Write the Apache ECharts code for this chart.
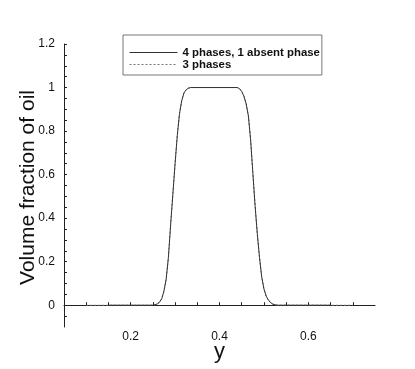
<!DOCTYPE html>
<html>
<head>
<meta charset="utf-8">
<script src="https://cdn.jsdelivr.net/npm/echarts@6/dist/echarts.min.js"></script>
<style>
html,body{margin:0;padding:0;background:#fff;}
#chart{width:415px;height:369px;}
</style>
</head>
<body>
<div id="chart"></div>
<script>
// Values
var seriesNames = ['4 phases, 1 absent phase', '3 phases'];

// shared transition profile (y position vs volume fraction)
var profileX = [0.25, 0.255, 0.26, 0.265, 0.27, 0.275, 0.28, 0.285, 0.29, 0.295, 0.30, 0.305, 0.31, 0.315, 0.32, 0.325, 0.33, 0.335,
  0.44, 0.445, 0.45, 0.455, 0.46, 0.465, 0.47, 0.475, 0.48, 0.485, 0.49, 0.495, 0.50, 0.505, 0.51, 0.515, 0.52, 0.525, 0.53];
var profileY = [0, 0.002, 0.006, 0.014, 0.03, 0.065, 0.12, 0.22, 0.37, 0.51, 0.65, 0.78, 0.88, 0.94, 0.975, 0.99, 0.997, 1,
  1, 0.995, 0.982, 0.96, 0.925, 0.87, 0.76, 0.61, 0.46, 0.33, 0.22, 0.13, 0.075, 0.042, 0.024, 0.012, 0.005, 0.002, 0];

// "4 phases, 1 absent phase" (solid) spans 0.15 .. 0.65
var solidX = [0.15].concat(profileX, [0.65]);
var solidY = [0].concat(profileY, [0]);
// "3 phases" (dashed) spans 0.10 .. 0.70
var dashX = [0.10].concat(profileX, [0.70]);
var dashY = [0].concat(profileY, [0]);

var xLabels = [0.2, 0.4, 0.6];
var xTicks = [0.1, 0.15, 0.2, 0.25, 0.3, 0.35, 0.4, 0.45, 0.5, 0.55, 0.6, 0.65, 0.7];
var yLabels = [0, 0.2, 0.4, 0.6, 0.8, 1, 1.2];
var yTicks = [-0.05, 0, 0.05, 0.1, 0.15, 0.2, 0.25, 0.3, 0.35, 0.4, 0.45, 0.5, 0.55, 0.6, 0.65, 0.7, 0.75, 0.8, 0.85, 0.9, 0.95, 1, 1.05, 1.1, 1.15, 1.2];

function pairs(xs, ys) { return xs.map(function (x, i) { return [x, ys[i]]; }); }

var chart = echarts.init(document.getElementById('chart'), null, {renderer: 'canvas'});
var axisColor = '#222';
var font = 'Liberation Sans, Arial, sans-serif';
chart.setOption({
  animation: false,
  backgroundColor: '#fff',
  grid: {left: 64, right: 40, top: 44, bottom: 42},
  legend: {
    orient: 'vertical',
    left: 123, top: 35,
    padding: [12, 2, 5, 6],
    itemWidth: 48, itemHeight: 10, itemGap: 1,
    backgroundColor: '#fff',
    borderColor: '#777', borderWidth: 1,
    itemStyle: {opacity: 0},
    lineStyle: {width: 1},
    textStyle: {fontFamily: font, fontWeight: 'bold', fontSize: 11.4, color: '#111'},
    data: seriesNames
  },
  xAxis: {
    type: 'value', min: 0.05, max: 0.75,
    name: 'y', nameLocation: 'middle', nameGap: 14, nameMoveOverlap: false,
    nameTextStyle: {fontFamily: font, fontSize: 22, color: '#111'},
    axisLine: {lineStyle: {color: axisColor, width: 1}},
    axisTick: {inside: true, length: 3, customValues: xTicks, lineStyle: {color: axisColor}},
    axisLabel: {customValues: xLabels, margin: 4, fontFamily: font, fontSize: 12, color: '#111',
      formatter: function (v) { return String(+v.toFixed(2)); }},
    splitLine: {show: false}
  },
  yAxis: {
    type: 'value', min: -0.1, max: 1.2,
    name: 'Volume fraction of oil', nameLocation: 'middle', nameGap: 25, nameMoveOverlap: false,
    nameTextStyle: {fontFamily: font, fontSize: 21, color: '#111', padding: [0, 4, 0, 0]},
    axisLine: {lineStyle: {color: axisColor, width: 1}},
    axisTick: {inside: true, length: 3, customValues: yTicks, lineStyle: {color: axisColor}},
    axisLabel: {customValues: yLabels, margin: 9, fontFamily: font, fontSize: 12, color: '#111',
      formatter: function (v) { return String(+v.toFixed(2)); }},
    splitLine: {show: false}
  },
  series: [
    {
      name: seriesNames[0], type: 'line', symbol: 'none', z: 3,
      lineStyle: {color: '#333', width: 1, type: 'solid'},
      itemStyle: {color: '#333'},
      data: pairs(solidX, solidY)
    },
    {
      name: seriesNames[1], type: 'line', symbol: 'none', z: 2,
      lineStyle: {color: '#777', width: 1, type: [2, 2]},
      itemStyle: {color: '#777'},
      data: pairs(dashX, dashY)
    }
  ]
});
</script>
</body>
</html>
